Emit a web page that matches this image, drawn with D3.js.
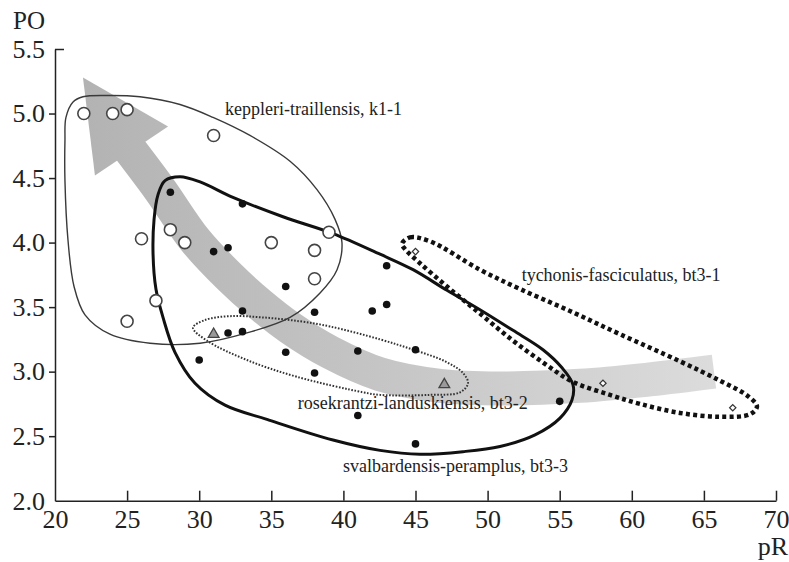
<!DOCTYPE html>
<html>
<head>
<meta charset="utf-8">
<script src="https://cdn.jsdelivr.net/npm/d3@7"></script>
<style>
  body { margin: 0; background: #fff; }
  svg { display: block; font-family: "Liberation Serif", "Times New Roman", serif; }
</style>
</head>
<body>
<div id="wrapper"></div>
<script>
// points: [pR, PO]
const k1Points = [[22, 5.0], [24, 5.0], [25, 5.03], [31, 4.83], [26, 4.03], [28, 4.1], [29, 4.0],
  [35, 4.0], [38, 3.94], [39, 4.08], [38, 3.72], [27, 3.55], [25, 3.39]];
const bt33Points = [[28, 4.39], [33, 4.3], [31, 3.93], [32, 3.96], [43, 3.82], [36, 3.66], [33, 3.47],
  [38, 3.46], [42, 3.47], [43, 3.52], [32, 3.3], [33, 3.31], [30, 3.09], [36, 3.15], [41, 3.16],
  [45, 3.17], [38, 2.99], [41, 2.66], [55, 2.77], [45, 2.44]];
const bt32Points = [[31, 3.29], [47, 2.9]];
const bt31Points = [[45, 3.93], [58, 2.91], [67, 2.72]];

// group outlines (hand drawn in the original)
const k1Hull = [[20.76, 4.97], [21.25, 5.09], [21.94, 5.13], [23.61, 5.14], [25.89, 5.13], [28.67, 5.07],
  [30.96, 4.97], [33.52, 4.83], [36.3, 4.63], [38.17, 4.41], [39.42, 4.18], [39.9, 4.0], [39.56, 3.79],
  [38.38, 3.61], [36.3, 3.42], [33.31, 3.3], [30.06, 3.22], [26.59, 3.22], [23.81, 3.29], [22.08, 3.44],
  [21.32, 3.66], [20.9, 4.02], [20.69, 4.48], [20.69, 4.79]];
const bt33Hull = [[27.14, 4.37], [27.63, 4.48], [28.67, 4.51], [30.06, 4.47], [32.34, 4.35], [35.81, 4.2],
  [39.28, 4.07], [42.54, 3.91], [44.83, 3.79], [47.18, 3.63], [49.47, 3.48], [51.76, 3.32], [53.84, 3.17],
  [55.16, 3.03], [55.92, 2.9], [55.85, 2.78], [55.02, 2.64], [53.29, 2.51], [50.86, 2.42], [48.29, 2.38],
  [45.31, 2.36], [42.54, 2.39], [39.28, 2.47], [34.7, 2.63], [31.79, 2.74], [29.71, 2.91], [28.32, 3.15],
  [27.49, 3.42], [27.0, 3.64], [26.8, 3.91], [26.87, 4.18]];
const bt32Hull = [[29.57, 3.34], [30.4, 3.4], [32.14, 3.43], [34.42, 3.42], [36.99, 3.39], [39.07, 3.35],
  [42.54, 3.25], [44.83, 3.17], [47.05, 3.08], [48.29, 2.99], [48.64, 2.91], [48.09, 2.84], [46.01, 2.82],
  [42.54, 2.82], [41.36, 2.84], [36.78, 2.96], [33.31, 3.09], [30.54, 3.24]];
const bt31Hull = [[44.06, 3.99], [44.62, 4.04], [46.0, 4.01], [49.47, 3.79], [52.25, 3.64], [55.71, 3.47],
  [59.18, 3.29], [63.34, 3.08], [66.12, 2.93], [68.06, 2.81], [68.68, 2.73], [68.2, 2.67], [66.12, 2.65],
  [63.34, 2.68], [60.57, 2.75], [58.49, 2.82], [55.92, 2.92], [53.98, 3.06], [51.76, 3.24], [49.47, 3.45],
  [47.18, 3.66], [45.31, 3.84], [44.27, 3.95]];

// trend arrow: centre line of the band, then the head
const arrowBand = [[65.7, 3.0], [61.26, 2.94], [56.41, 2.89], [50.86, 2.87], [46.7, 2.89], [42.54, 2.98],
  [39.07, 3.15], [36.3, 3.34], [34.22, 3.52], [32.14, 3.73], [29.71, 4.02], [27.28, 4.41], [25.2, 4.72]];
const arrowHead = [[21.94, 5.28], [27.84, 4.9], [22.77, 4.52]];

const groupLabels = ['keppleri-traillensis, k1-1', 'tychonis-fasciculatus, bt3-1',
  'rosekrantzi-landuskiensis, bt3-2', 'svalbardensis-peramplus, bt3-3'];
const labelPos = [[31.79, 4.99], [52.36, 3.7], [36.83, 2.71], [39.97, 2.22]];

const xTicks = d3.range(20, 71, 5);
const yTicks = [2.0, 2.5, 3.0, 3.5, 4.0, 4.5, 5.0, 5.5];

const W = 789, H = 562;
const svg = d3.select('#wrapper').append('svg')
  .attr('width', W).attr('height', H);

const x = d3.scaleLinear().domain([20, 70]).range([55, 776]);
const y = d3.scaleLinear().domain([2, 5.5]).range([500.7, 49]);

// gradient for the grey arrow
const grad = svg.append('defs').append('linearGradient')
  .attr('id', 'arrowGrad').attr('gradientUnits', 'userSpaceOnUse')
  .attr('x1', x(21)).attr('y1', 0).attr('x2', x(66)).attr('y2', 0);
grad.append('stop').attr('offset', 0).attr('stop-color', '#b2b2b2');
grad.append('stop').attr('offset', 0.5).attr('stop-color', '#c6c6c6');
grad.append('stop').attr('offset', 1).attr('stop-color', '#dcdcdc');

const line = d3.line().x(d => x(d[0])).y(d => y(d[1]));

svg.append('path')
  .attr('d', line.curve(d3.curveCatmullRom)(arrowBand))
  .attr('fill', 'none')
  .attr('stroke', 'url(#arrowGrad)')
  .attr('stroke-width', 34);
svg.append('path')
  .attr('d', line.curve(d3.curveLinearClosed)(arrowHead))
  .attr('fill', 'url(#arrowGrad)');

// hulls
const closed = d3.line().x(d => x(d[0])).y(d => y(d[1])).curve(d3.curveCatmullRomClosed);
svg.append('path').attr('d', closed(k1Hull))
  .attr('fill', 'none').attr('stroke', '#3a3a3a').attr('stroke-width', 1.4);
svg.append('path').attr('d', closed(bt33Hull))
  .attr('fill', 'none').attr('stroke', '#111').attr('stroke-width', 3);
svg.append('path').attr('d', closed(bt32Hull))
  .attr('fill', 'none').attr('stroke', '#333').attr('stroke-width', 2)
  .attr('stroke-dasharray', '1.6 1.6');
svg.append('path').attr('d', closed(bt31Hull))
  .attr('fill', 'none').attr('stroke', '#111').attr('stroke-width', 4.5)
  .attr('stroke-dasharray', '4 3.3');

// points
svg.append('g').selectAll('circle').data(bt33Points).join('circle')
  .attr('cx', d => x(d[0])).attr('cy', d => y(d[1])).attr('r', 3.8)
  .attr('fill', '#111');
svg.append('g').selectAll('circle').data(k1Points).join('circle')
  .attr('cx', d => x(d[0])).attr('cy', d => y(d[1])).attr('r', 6)
  .attr('fill', '#fff').attr('stroke', '#444').attr('stroke-width', 1.6);
svg.append('g').selectAll('path').data(bt32Points).join('path')
  .attr('transform', d => `translate(${x(d[0])},${y(d[1])})`)
  .attr('d', d3.symbol(d3.symbolTriangle, 50))
  .attr('fill', '#9a9a9a').attr('stroke', '#444').attr('stroke-width', 1.3);
svg.append('g').selectAll('path').data(bt31Points).join('path')
  .attr('transform', d => `translate(${x(d[0])},${y(d[1])}) rotate(45)`)
  .attr('d', d3.symbol(d3.symbolSquare, 20))
  .attr('fill', '#fff').attr('stroke', '#333').attr('stroke-width', 1.2);

// group labels
svg.append('g').selectAll('text').data(groupLabels).join('text')
  .attr('x', (d, i) => x(labelPos[i][0]))
  .attr('y', (d, i) => y(labelPos[i][1]))
  .attr('font-size', 18).attr('fill', '#222')
  .text(d => d);

// axes
const xAxis = d3.axisBottom(x).tickValues(xTicks).tickFormat(d3.format('d'))
  .tickSize(-10).tickSizeOuter(0).tickPadding(8.5);
const gx = svg.append('g').attr('transform', `translate(0,${y(2)})`).call(xAxis);

const yAxis = d3.axisLeft(y).tickValues(yTicks).tickFormat(d3.format('.1f'))
  .tickSize(6).tickSizeOuter(0).tickPadding(4);
const gy = svg.append('g').attr('transform', `translate(${x(20)},0)`).call(yAxis);
gy.selectAll('.tick').filter(d => d === 5.5).select('line').attr('x2', 9);
gy.selectAll('.tick').filter(d => d === 2.0).select('line').remove();
gx.selectAll('.tick').filter(d => d === 20).select('line').remove();

[gx, gy].forEach(g => {
  g.select('.domain').attr('stroke', '#222').attr('stroke-width', 1.5);
  g.selectAll('.tick line').attr('stroke', '#222').attr('stroke-width', 1.5);
  g.selectAll('text').attr('font-size', 26).attr('fill', '#222')
    .attr('font-family', '"Liberation Serif", "Times New Roman", serif');
});

svg.append('text').attr('x', 13).attr('y', 29).attr('font-size', 25).attr('fill', '#222').text('PO');
svg.append('text').attr('x', 788).attr('y', 555).attr('text-anchor', 'end')
  .attr('font-size', 26).attr('fill', '#222').text('pR');
</script>
</body>
</html>
